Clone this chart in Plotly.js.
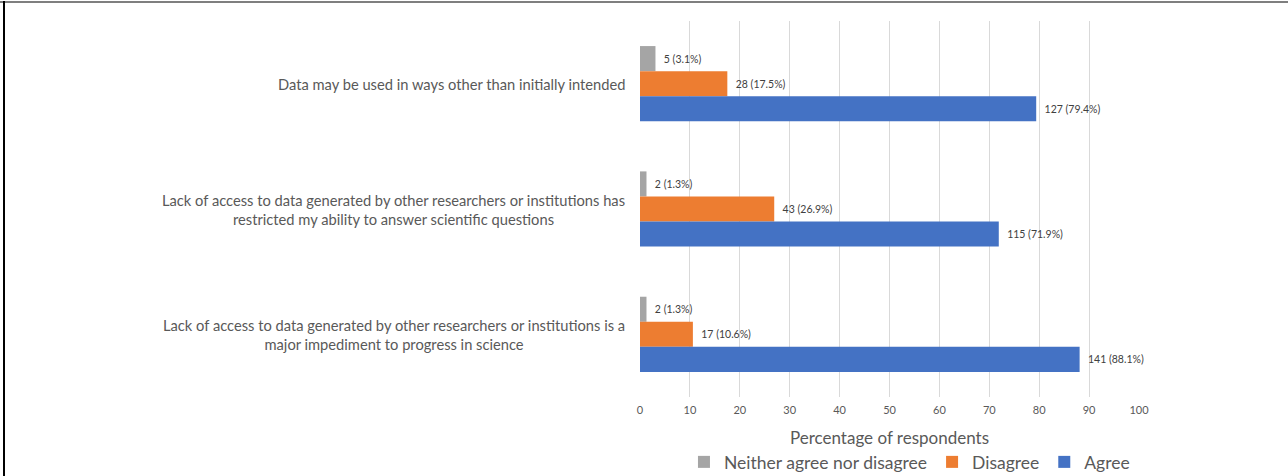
<!DOCTYPE html>
<html>
<head>
<meta charset="utf-8">
<script src="https://cdn.plot.ly/plotly-3.0.1.min.js"></script>
<style>
  html, body { margin: 0; padding: 0; background: #fff; overflow: hidden; }
  #wrap { position: relative; width: 1288px; height: 476px; overflow: hidden; }
  #chart { position: absolute; left: 0; top: 0; width: 1288px; height: 500px; }
  #topline { position: absolute; left: 0; top: 1px; width: 1288px; height: 2px; background: #7f7f7f; }
  #leftline { position: absolute; left: 3px; top: 1px; width: 2px; height: 475px; background: #000; }
</style>
</head>
<body>
<div id="wrap">
  <div id="chart"></div>
  <div id="topline"></div>
  <div id="leftline"></div>
</div>
<script>
// Categories (top to bottom)
const categories = [
  "Data may be used in ways other than initially intended",
  "Lack of access to data generated by other researchers or institutions has<br>restricted my ability to answer scientific questions",
  "Lack of access to data generated by other researchers or institutions is a<br>major impediment to progress in science"
];
const catKeys = ["c1", "c2", "c3"];

const seriesNames = ["Neither agree nor disagree", "Disagree", "Agree"];
const neitherPct = [3.1, 1.3, 1.3];
const neitherN = [5, 2, 2];
const disagreePct = [17.5, 26.9, 10.6];
const disagreeN = [28, 43, 17];
const agreePct = [79.4, 71.9, 88.1];
const agreeN = [127, 115, 141];
const seriesColors = ["#A5A5A5", "#ED7D31", "#4472C4"];

const xTicks = [0, 10, 20, 30, 40, 50, 60, 70, 80, 90, 100];
const xTitle = "Percentage of respondents";

const pcts = [neitherPct, disagreePct, agreePct];
const counts = [neitherN, disagreeN, agreeN];

const FONT = "Lato, sans-serif";
const H = 500; // layout height (bottom part is cropped by the 476px wrapper)

const traces = seriesNames.map((name, i) => ({
  type: "bar",
  orientation: "h",
  name: name,
  y: catKeys,
  x: pcts[i],
  text: pcts[i].map((p, j) => "\u00a0\u00a0" + counts[i][j] + " (" + p.toFixed(1) + "%)"),
  textposition: "outside",
  constraintext: "none",
  cliponaxis: false,
  textfont: { family: FONT, size: 10.5, color: "#404040" },
  marker: { color: seriesColors[i], line: { width: 0 } },
  hoverinfo: "none"
}));

const annotations = categories.map((c, j) => ({
  text: c,
  xref: "paper", yref: "y",
  x: 0, y: catKeys[j],
  xanchor: "right", yanchor: "middle",
  xshift: -13, yshift: 0,
  align: "center",
  showarrow: false,
  font: { family: FONT, size: 14.7, color: "#595959" }
}));

const layout = {
  width: 1288, height: H,
  margin: { l: 640, r: 149, t: 0, b: 0, pad: 0 },
  paper_bgcolor: "#ffffff",
  plot_bgcolor: "#ffffff",
  barmode: "group",
  bargap: 0.4,
  bargroupgap: 0,
  showlegend: true,
  legend: {
    orientation: "h",
    x: 0.54, xanchor: "center",
    y: (H - 462) / H, yanchor: "middle",
    font: { family: FONT, size: 17.5, color: "#595959" },
    itemwidth: 30,
    traceorder: "normal"
  },
  xaxis: {
    range: [0, 100],
    tickvals: xTicks,
    ticktext: xTicks.map(String),
    showgrid: true,
    gridcolor: "#d9d9d9",
    gridwidth: 1,
    zeroline: false,
    showline: false,
    ticks: "",
    ticklabelstandoff: 5,
    automargin: false,
    tickfont: { family: FONT, size: 11, color: "#595959" },
    title: { text: xTitle, standoff: 17, font: { family: FONT, size: 17, color: "#595959" } },
    fixedrange: true
  },
  yaxis: {
    type: "category",
    categoryorder: "array",
    categoryarray: catKeys,
    autorange: "reversed",
    domain: [(H - 397) / H, (H - 21) / H],
    showticklabels: false,
    showgrid: false,
    zeroline: false,
    showline: false,
    ticks: "",
    automargin: false,
    fixedrange: true
  },
  annotations: annotations,
  font: { family: FONT, color: "#595959" }
};

Plotly.newPlot("chart", traces, layout, { staticPlot: true, displayModeBar: false });
</script>
</body>
</html>
